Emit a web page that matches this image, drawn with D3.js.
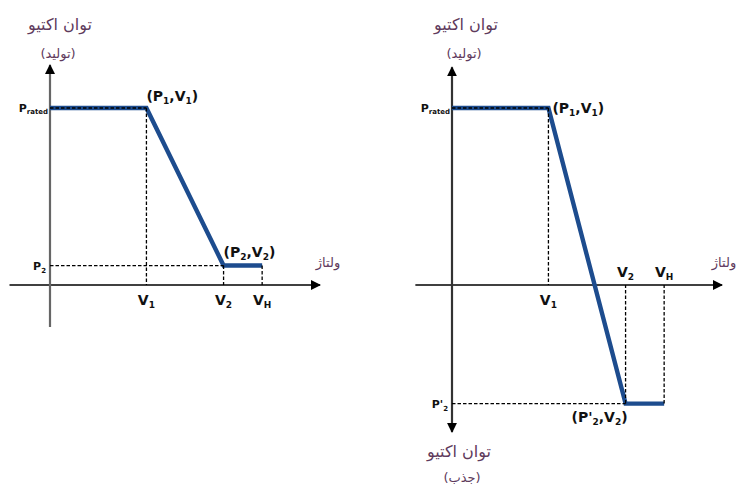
<!DOCTYPE html>
<html>
<head>
<meta charset="utf-8">
<script src="https://cdn.jsdelivr.net/npm/d3@7"></script>
<style>
  html, body { margin: 0; padding: 0; background: #fff; }
  svg { display: block; }
  .fa { font-family: "DejaVu Sans", sans-serif; fill: #5e3a5c; }
  .lbl { font-family: "DejaVu Sans", Verdana, sans-serif; font-weight: bold; fill: #111; }
</style>
</head>
<body>
<svg id="chart" width="736" height="488"></svg>
<script>
// Voltage (p.u. of V1) and active power (p.u. of P_rated) for the two control curves
const curveVoltage = [0, 1.0, 1.8, 2.2];          // 0, V1, V2, VH
const leftPower    = [1.0, 1.0, 0.11, 0.11];      // Prated -> P2 (generation)
const rightPower   = [1.0, 1.0, -0.67, -0.67];    // Prated -> P'2 (absorption)
const voltageNames = ["V", "V", "V"];
const voltageSubs  = ["1", "2", "H"];
const axisTitleTop = ["توان اکتیو", "(تولید)"];
const axisTitleBottom = ["توان اکتیو", "(جذب)"];
const voltageTitle = "ولتاژ";

const svg = d3.select("#chart");
const blue = "#1d4c8e";

// Arrowhead marker
const defs = svg.append("defs");
defs.append("marker")
  .attr("id", "arrow").attr("viewBox", "0 0 10 10")
  .attr("refX", 9).attr("refY", 5)
  .attr("markerWidth", 10).attr("markerHeight", 10)
  .attr("markerUnits", "userSpaceOnUse")
  .attr("orient", "auto")
  .append("path").attr("d", "M0,0 L10,5 L0,10 Z").attr("fill", "#000");

function subText(sel, base, sub, baseSize, subSize, dy) {
  sel.append("tspan").attr("font-size", baseSize).text(base);
  sel.append("tspan").attr("font-size", subSize).attr("dy", dy).text(sub);
}

function drawPanel(cfg) {
  const x = d3.scaleLinear().domain([0, 2.8]).range([cfg.ox, cfg.ox + 270]);
  const y = d3.scaleLinear().domain([0, 1]).range([285, 108]);
  const g = svg.append("g");

  const dash = (x1, y1, x2, y2) => g.append("line")
    .attr("x1", x1).attr("y1", y1).attr("x2", x2).attr("y2", y2)
    .attr("stroke", "#000").attr("stroke-width", 1.3)
    .attr("stroke-dasharray", "3.5,2");

  // Axes
  g.append("line")
    .attr("x1", x(cfg.xMin)).attr("y1", y(0)).attr("x2", x(2.8)).attr("y2", y(0))
    .attr("stroke", "#000").attr("stroke-width", 1.6)
    .attr("marker-end", "url(#arrow)");
  if (cfg.downArrow) {
    [cfg.yMax, cfg.yMin].forEach(end => g.append("line")
      .attr("x1", x(0)).attr("x2", x(0))
      .attr("y1", y(0)).attr("y2", y(end))
      .attr("stroke", cfg.yColor).attr("stroke-width", 2.2)
      .attr("marker-end", "url(#arrow)"));
  } else {
    g.append("line")
      .attr("x1", x(0)).attr("x2", x(0))
      .attr("y1", y(cfg.yMin)).attr("y2", y(cfg.yMax))
      .attr("stroke", cfg.yColor).attr("stroke-width", 2.2)
      .attr("marker-end", "url(#arrow)");
  }

  const pts = curveVoltage.map((v, i) => [x(v), y(cfg.power[i])]);

  // Curve
  g.append("path")
    .attr("d", d3.line()(pts))
    .attr("fill", "none").attr("stroke", blue)
    .attr("stroke-width", 4.4).attr("stroke-linejoin", "miter");

  // Guide lines
  dash(x(0), y(1), x(curveVoltage[1]), y(1));
  dash(x(curveVoltage[1]), y(1), x(curveVoltage[1]), y(0));
  const pLow = cfg.power[2];
  dash(x(0), y(pLow), x(curveVoltage[2]), y(pLow));
  dash(x(curveVoltage[2]), y(pLow), x(curveVoltage[2]), y(0));
  dash(x(curveVoltage[3]), y(pLow), x(curveVoltage[3]), y(0));

  // Power tick labels
  const pr = g.append("text").attr("class", "lbl")
    .attr("x", x(0) - 2).attr("y", y(1) + 4).attr("text-anchor", "end")
    .attr("font-weight", "normal");
  subText(pr, "P", "rated", 11, 7, 2);
  const p2 = g.append("text").attr("class", "lbl")
    .attr("x", x(0) - 4).attr("y", y(pLow) + 4).attr("text-anchor", "end");
  subText(p2, cfg.p2Name, "2", 11, 7, 3);

  // Voltage tick labels
  curveVoltage.slice(1).forEach((v, i) => {
    const above = cfg.labelAbove[i];
    const t = g.append("text").attr("class", "lbl")
      .attr("x", x(v)).attr("y", above ? y(0) - 8 : y(0) + 20)
      .attr("text-anchor", "middle");
    subText(t, voltageNames[i], voltageSubs[i], 14, 9, 3);
  });

  // Point labels
  const l1 = g.append("text").attr("class", "lbl")
    .attr("x", x(curveVoltage[1]) + cfg.p1dx).attr("y", y(1) + cfg.p1dy);
  l1.append("tspan").attr("font-size", 14).text("(P");
  l1.append("tspan").attr("font-size", 9).attr("dy", 3).text("1");
  l1.append("tspan").attr("font-size", 14).attr("dy", -3).text(",V");
  l1.append("tspan").attr("font-size", 9).attr("dy", 3).text("1");
  l1.append("tspan").attr("font-size", 14).attr("dy", -3).text(")");

  const l2 = g.append("text").attr("class", "lbl")
    .attr("x", x(curveVoltage[2]) + cfg.p2dx).attr("y", y(pLow) + cfg.p2dy)
    .attr("text-anchor", cfg.p2anchor);
  l2.append("tspan").attr("font-size", 14).text(cfg.p2Label);
  l2.append("tspan").attr("font-size", 9).attr("dy", 3).text("2");
  l2.append("tspan").attr("font-size", 14).attr("dy", -3).text(",V");
  l2.append("tspan").attr("font-size", 9).attr("dy", 3).text("2");
  l2.append("tspan").attr("font-size", 14).attr("dy", -3).text(")");

  // Axis titles
  const faText = (tx, ty, s, size) => g.append("text").attr("class", "fa")
    .attr("x", tx).attr("y", ty).attr("text-anchor", "middle")
    .attr("direction", "rtl").attr("font-size", size).text(s);
  faText(x(0) + cfg.titleDx, 30, axisTitleTop[0], 16);
  faText(x(0) + cfg.titleDx - 2, 58, axisTitleTop[1], 13);
  if (cfg.downArrow) {
    faText(x(0) + 7, 457, axisTitleBottom[0], 16);
    faText(x(0) + 10, 482, axisTitleBottom[1], 13);
  }
  faText(x(2.8) + cfg.vTitleDx, y(0) - 18, voltageTitle, 13);
}

drawPanel({
  ox: 50, xMin: -0.42, yMin: -0.237, yMax: 1.243, yColor: "#666",
  power: leftPower, downArrow: false,
  labelAbove: [false, false, false],
  p2Name: "P", p1dx: 0, p1dy: -7, p2dx: 0, p2dy: -9, p2anchor: "start",
  p2Label: "(P", titleDx: 10, vTitleDx: 8
});

drawPanel({
  ox: 452, xMin: -0.38, yMin: -0.83, yMax: 1.23, yColor: "#333",
  power: rightPower, downArrow: true,
  labelAbove: [false, true, true],
  p2Name: "P'", p1dx: 4, p1dy: 5, p2dx: 2, p2dy: 18, p2anchor: "end",
  p2Label: "(P'", titleDx: 14, vTitleDx: 2
});
</script>
</body>
</html>
